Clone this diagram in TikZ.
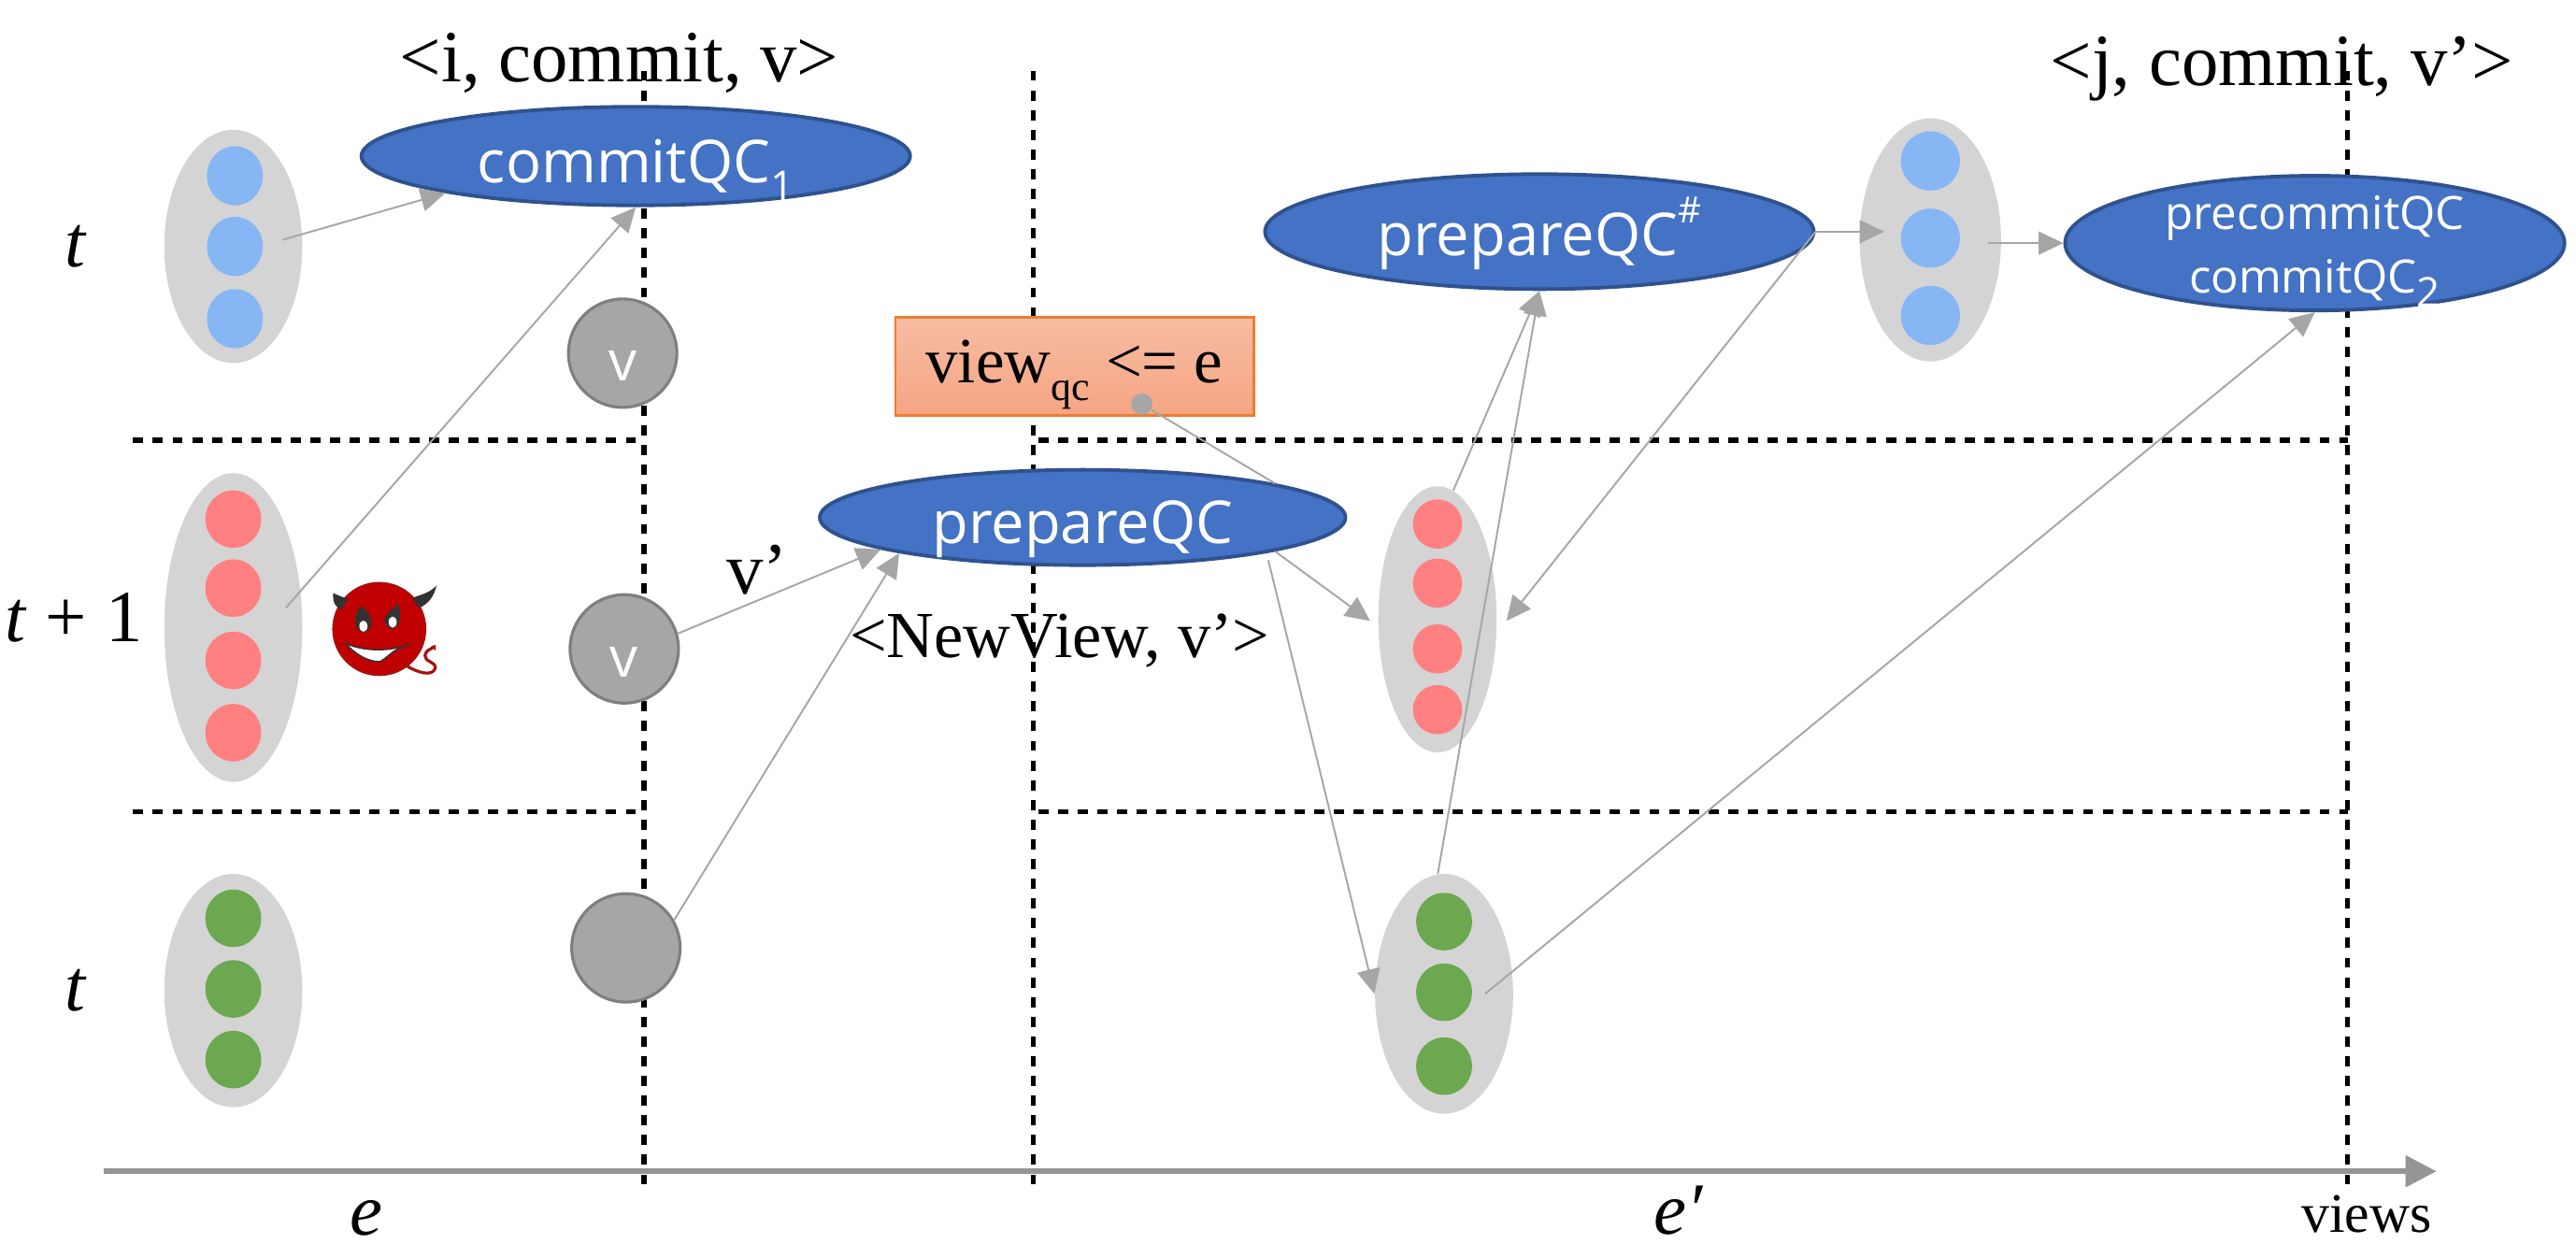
\documentclass[tikz,border=0pt]{standalone}
\usepackage{fontspec}
\setmainfont{Liberation Serif}
\newfontfamily\qcfont{Open Sans}
\usetikzlibrary{shapes.geometric,arrows.meta,calc}
\definecolor{grpgray}{HTML}{D4D4D4}
\definecolor{conngray}{HTML}{A6A6A6}
\definecolor{qcblue}{HTML}{4472C4}
\definecolor{qcedge}{HTML}{2F528F}
\definecolor{dotblue}{HTML}{87B6F5}
\definecolor{dotred}{HTML}{FF8080}
\definecolor{dotgreen}{HTML}{6BA84F}
\definecolor{circgray}{HTML}{A6A6A6}
\definecolor{circedge}{HTML}{7F7F7F}
\definecolor{axisgray}{HTML}{959595}
\definecolor{devilred}{HTML}{C00000}
\definecolor{devildark}{HTML}{A81010}
\definecolor{hornd}{HTML}{333333}
\def\ux{0.17577mm}
\newcommand{\qcsub}[1]{\raisebox{-0.3em}{\fontsize{12.5}{13}\selectfont #1}}
\tikzset{
  px/.style={x=\ux,y=-\ux},
  grp/.style n args={2}{ellipse,inner sep=0pt,fill=grpgray,minimum width=#1*\ux,minimum height=#2*\ux},
  dotb/.style n args={3}{ellipse,inner sep=0pt,fill=#1,minimum width=#2*\ux,minimum height=#3*\ux},
  qc/.style n args={2}{ellipse,inner sep=0pt,fill=qcblue,draw=qcedge,line width=1.1pt,text=white,font=\qcfont,align=center,minimum width=#1*\ux,minimum height=#2*\ux},
  qcbase/.style={text height=36*\ux,text depth=4*\ux},
  circ/.style={circle,inner sep=0pt,fill=circgray,draw=circedge,line width=0.9pt,minimum size=66*\ux,text=white,text height=34*\ux,text depth=0pt,font=\qcfont\fontsize{17}{18}\selectfont},
  conn/.style={draw=conngray,line width=0.55pt,-{Triangle[length=7.5pt,width=7pt]}},
  plainconn/.style={draw=conngray,line width=0.55pt},
  dashv/.style={draw=black,line width=1.5pt,dash pattern=on 3.1pt off 2.9pt},
  dashh/.style={draw=black,line width=1.5pt,dash pattern=on 3.1pt off 2.9pt},
  lab/.style={inner sep=0pt,font=\fontsize{22.4}{26}\selectfont},
  lab2/.style={inner sep=0pt,font=\fontsize{20}{24}\selectfont},
}
\begin{document}
\begin{tikzpicture}[px]
\useasboundingbox (0,0) rectangle (1568,757);
% guides
\coordinate (v1t) at (392,43); \coordinate (v1b) at (392,721);
\coordinate (v2t) at (629,43); \coordinate (v2b) at (629,721);
\coordinate (v3t) at (1429,43); \coordinate (v3b) at (1429,721);
\coordinate (h1a) at (81,268); \coordinate (h1b) at (388,268);
\coordinate (h1c) at (632,268); \coordinate (h1d) at (1429,268);
\coordinate (h2a) at (81,494); \coordinate (h2b) at (388,494);
\coordinate (h2c) at (632,494); \coordinate (h2d) at (1429,494);
\coordinate (axs) at (63,713); \coordinate (axe) at (1483,713);
\draw[dashv] (v1t) -- (v1b);
\draw[dashv] (v2t) -- (v2b);
\draw[dashv] (v3t) -- (v3b);
\draw[dashh] (h1a) -- (h1b);
\draw[dashh] (h1c) -- (h1d);
\draw[dashh] (h2a) -- (h2b);
\draw[dashh] (h2c) -- (h2d);
\draw[draw=axisgray,line width=1.6pt,-{Triangle[length=9.4pt,width=9.4pt]}] (axs) -- (axe);
% groups
\node[grp={84}{142}] (g1) at (142,150) {};
\node[grp={84}{188}] (g2) at (142,382) {};
\node[grp={84}{142}] (g3) at (142,603) {};
\node[grp={72}{162}] (g5) at (875,377) {};
\node[grp={84}{146}] (g6) at (879,605) {};
\node[grp={86}{148}] (g7) at (1175,146) {};
\foreach \n/\y in {a/107,b/150,c/194} \node[dotb={dotblue}{34}{36}] (g1\n) at (143,\y) {};
\foreach \n/\y in {a/316,b/358,c/402,d/446} \node[dotb={dotred}{34}{35}] (g2\n) at (142,\y) {};
\foreach \n/\y in {a/559,b/602,c/645} \node[dotb={dotgreen}{34}{35}] (g3\n) at (142,\y) {};
\foreach \n/\y in {a/319,b/355,c/395,d/432} \node[dotb={dotred}{30}{30}] (g5\n) at (875,\y) {};
\foreach \n/\y in {a/561,b/604,c/649} \node[dotb={dotgreen}{34}{35}] (g6\n) at (879,\y) {};
\foreach \n/\y in {a/98,b/145,c/192} \node[dotb={dotblue}{36}{36}] (g7\n) at (1175,\y) {};
% gray circles
\node[circ] (v1) at (379,215) {v};
\node[circ] (v2) at (380,395) {v};
\node[circ] (v3) at (381,577) {};
% QC ellipses
\node[qc={334}{60},qcbase,font=\qcfont\fontsize{18}{20}\selectfont] (commit) at (387,95) {commitQC\qcsub{1}};
\node[qc={334}{70},text height=33*\ux,text depth=4*\ux,font=\qcfont\fontsize{18}{20}\selectfont] (psharp) at (937,141) {prepareQC\raisebox{0.55em}{\fontsize{11}{12}\selectfont\#}};
\node[qc={304}{82}] (pc) at (1409,148) {};
\node[inner sep=0pt,text=white,align=center,font=\qcfont\fontsize{14}{19.3}\selectfont] (pctext) at (1409,153) {precommitQC\\commitQC\qcsub{2}};
\node[qc={320}{58},qcbase,font=\qcfont\fontsize{18}{20}\selectfont] (prep) at (659,315) {prepareQC};
% condition box
\node[rectangle,draw={rgb,255:red,237;green,125;blue,49},line width=0.8pt,top color={rgb,255:red,247;green,188;blue,163},bottom color={rgb,255:red,245;green,165;blue,131},minimum width=218*\ux,minimum height=60*\ux,inner sep=0pt,text height=40*\ux,text depth=20*\ux,font=\fontsize{19.6}{24}\selectfont] (cond) at (654,223) {view\raisebox{-0.28em}{\fontsize{12.5}{13}\selectfont qc} <= e};
\node[circle,fill=conngray,inner sep=0pt,minimum size=13*\ux] (pin) at (695,246) {};
% connectors
\draw[plainconn] (pin) -- (prep.10);
\draw[conn] ($(g1)+(30,-4)$) -- (commit.191);
\draw[conn] ($(g2)+(32,-12)$) -- (commit.south);
\draw[conn] (v2.16) -- (prep.189);
\draw[conn] (v3.30) -- (prep.191);
\draw[conn] (prep.-10) -- ($(g5)+(-41,1)$);
\draw[conn] ($(prep)+(113,26)$) -- (g6.west);
\draw[conn] (g5.83) -- (psharp.south);
\draw[conn] (g6.93) -- (psharp.south);
\draw[conn] (psharp.east) -- ($(g7)+(-28,-5)$);
\draw[conn] ($(g7)+(35,2)$) -- (pc.west);
\draw[conn] (psharp.east) -- ($(g5)+(42,1)$);
\draw[conn] ($(g6)+(25,0)$) -- (pc.south);
% labels
\node[lab,anchor=base] (t1) at (377,50) {<i, commit, v>};
\node[lab,anchor=base] (t2) at (1389,52) {<j, commit, v’>};
\node[lab2,anchor=base] (t3) at (645,400.5) {<NewView, v’>};
\node[lab] (t4) at (461,347) {v’};
\node[lab] (rt) at (46,150) {\textit{t}};
\node[lab] (rt1) at (45,376) {\textit{t} + 1};
\node[lab] (rt2) at (46,603) {\textit{t}};
\node[lab,anchor=base] (xe) at (223,752) {\textit{e}};
\node[lab,anchor=base] (xe2) at (1022,751) {\textit{e′}};
\node[inner sep=0pt,anchor=base,font=\fontsize{17}{18}\selectfont] (xv) at (1440.5,750) {views};
% devil
\begin{scope}[x=0.01cm/3,y=-0.01cm/3,shift={(900,1740)}]
  \draw[devildark,line width=0.9pt,line cap=round] (405,398) .. controls (440,420) and (490,435) .. (498,405) .. controls (500,385) and (462,385) .. (465,365) .. controls (467,350) and (480,345) .. (495,338);
  \fill[devildark] (485,335) -- (499,331) -- (499,350) -- cycle;
  \fill[devilred,draw=devildark,line width=0.6pt] (318,280) circle [radius=148];
  \fill[hornd] (170,165) -- (218,185) -- (195,218) .. controls (180,210) and (168,200) .. (170,165) -- cycle;
  \fill[hornd] (502,140) .. controls (480,165) and (450,170) .. (425,180) .. controls (430,195) and (440,205) .. (447,212) .. controls (475,200) and (495,175) .. (502,140) -- cycle;
  \fill[hornd] (258,207) .. controls (285,225) and (295,245) .. (292,265) .. controls (285,300) and (245,300) .. (242,260) .. controls (240,240) and (245,220) .. (258,207) -- cycle;
  \fill[hornd] (377,197) .. controls (385,225) and (388,245) .. (380,265) .. controls (365,290) and (335,280) .. (335,245) .. controls (345,225) and (365,215) .. (377,197) -- cycle;
  \fill[white] (267,271) ellipse [x radius=13,y radius=18];
  \fill[white] (361,258) ellipse [x radius=13,y radius=18];
  \fill[white,draw=hornd,line width=0.4pt] (210,327) .. controls (270,352) and (350,355) .. (420,327) -- (380,343) .. controls (355,355) and (340,375) .. (320,385) .. controls (280,385) and (240,360) .. (210,327) -- cycle;
\end{scope}
\end{tikzpicture}
\end{document}
